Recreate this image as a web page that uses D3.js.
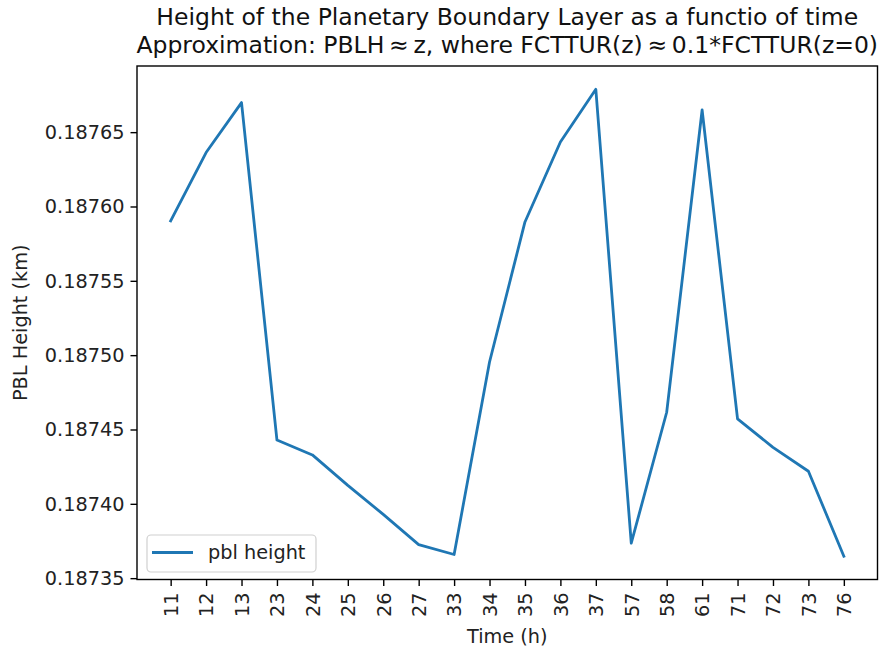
<!DOCTYPE html>
<html>
<head>
<meta charset="utf-8">
<script src="https://cdn.jsdelivr.net/npm/d3@7"></script>
<style>
  html, body { margin: 0; padding: 0; background: #fff; }
  svg { display: block; font-family: "DejaVu Sans", sans-serif; }
</style>
</head>
<body>
<svg id="chart" width="884" height="649"></svg>
<script>
// ---- data ----
const times = ["11","12","13","23","24","25","26","27","33","34","35","36","37","57","58","61","71","72","73","76"];
const pblHeight = [0.1875903, 0.1876363, 0.1876699, 0.1874429, 0.1874329, 0.1874124, 0.1873929, 0.1873726,
                   0.1873659, 0.1874954, 0.1875896, 0.1876434, 0.1876788, 0.1873735, 0.1874616, 0.1876649,
                   0.1874571, 0.1874380, 0.1874219, 0.1873648];
const yTicks = [0.18735, 0.18740, 0.18745, 0.18750, 0.18755, 0.18760, 0.18765];
const titleLines = ["Height of the Planetary Boundary Layer as a functio of time",
                    "Approximation: PBLH\u2009\u2248\u2009z, where FCTTUR(z)\u2009\u2248\u20090.1*FCTTUR(z=0)"];
const xLabel = "Time (h)";
const yLabel = "PBL Height (km)";
const seriesName = "pbl height";

// ---- layout ----
const svg = d3.select("#chart");
const pLeft = 137, pRight = 877.5, pTop = 66, pBottom = 579.5;
const color = "#1f77b4";
const FONT = "DejaVu Sans, sans-serif";

const n = times.length;
const xm = (n - 1) * 0.05;
const x = d3.scaleLinear().domain([-xm, n - 1 + xm]).range([pLeft, pRight]);
const ext = d3.extent(pblHeight);
const ym = (ext[1] - ext[0]) * 0.05;
const y = d3.scaleLinear().domain([ext[0] - ym, ext[1] + ym]).range([pBottom, pTop]);

// line
const line = d3.line().x((d, i) => x(i)).y(d => y(d));
svg.append("path").datum(pblHeight)
  .attr("d", line)
  .attr("fill", "none")
  .attr("stroke", color)
  .attr("stroke-width", 2.8)
  .attr("stroke-linejoin", "round")
  .attr("stroke-linecap", "square");

// x axis
const xAxis = d3.axisBottom(x)
  .tickValues(d3.range(n))
  .tickFormat(i => times[i])
  .tickSize(6.5)
  .tickPadding(6);
const gx = svg.append("g").attr("transform", `translate(0,${pBottom})`).call(xAxis)
  .attr("font-family", FONT);
gx.select(".domain").remove();
gx.selectAll(".tick line").attr("stroke", "#000").attr("stroke-width", 1.4);
gx.selectAll(".tick text")
  .attr("font-size", 19.3)
  .attr("fill", "#222")
  .attr("transform", "rotate(-90)")
  .attr("x", -13)
  .attr("y", 0)
  .attr("dy", "0.35em")
  .attr("text-anchor", "end");

// y axis
const yAxis = d3.axisLeft(y)
  .tickValues(yTicks)
  .tickFormat(d3.format(".5f"))
  .tickSize(6.5)
  .tickPadding(6);
const gy = svg.append("g").attr("transform", `translate(${pLeft},0)`).call(yAxis)
  .attr("font-family", FONT);
gy.select(".domain").remove();
gy.selectAll(".tick line").attr("stroke", "#000").attr("stroke-width", 1.4);
gy.selectAll(".tick text").attr("font-size", 19.3).attr("fill", "#222");

// frame
svg.append("rect")
  .attr("x", pLeft).attr("y", pTop)
  .attr("width", pRight - pLeft).attr("height", pBottom - pTop)
  .attr("fill", "none").attr("stroke", "#000").attr("stroke-width", 1.4);

// titles
const tcx = (pLeft + pRight) / 2;
svg.append("text").attr("x", tcx).attr("y", 25).attr("text-anchor", "middle")
  .attr("font-size", 23.5).attr("fill", "#111").text(titleLines[0]);
svg.append("text").attr("x", tcx).attr("y", 53).attr("text-anchor", "middle")
  .attr("font-size", 23.5).attr("fill", "#111").text(titleLines[1]);

// axis labels
svg.append("text").attr("x", tcx).attr("y", 643).attr("text-anchor", "middle")
  .attr("font-size", 19.3).attr("fill", "#222").text(xLabel);
svg.append("text")
  .attr("transform", `translate(27,${(pTop + pBottom) / 2}) rotate(-90)`)
  .attr("text-anchor", "middle")
  .attr("font-size", 19.3).attr("fill", "#222").text(yLabel);

// legend
const lg = svg.append("g");
lg.append("rect").attr("x", 147).attr("y", 535).attr("width", 169).attr("height", 37)
  .attr("rx", 4).attr("fill", "#fff").attr("fill-opacity", 0.8)
  .attr("stroke", "#d0d0d0").attr("stroke-width", 1.2);
lg.append("line").attr("x1", 152).attr("x2", 193).attr("y1", 552.5).attr("y2", 552.5)
  .attr("stroke", color).attr("stroke-width", 2.8);
lg.append("text").attr("x", 208).attr("y", 559).attr("font-size", 19.3).attr("fill", "#222").text(seriesName);
</script>
</body>
</html>
